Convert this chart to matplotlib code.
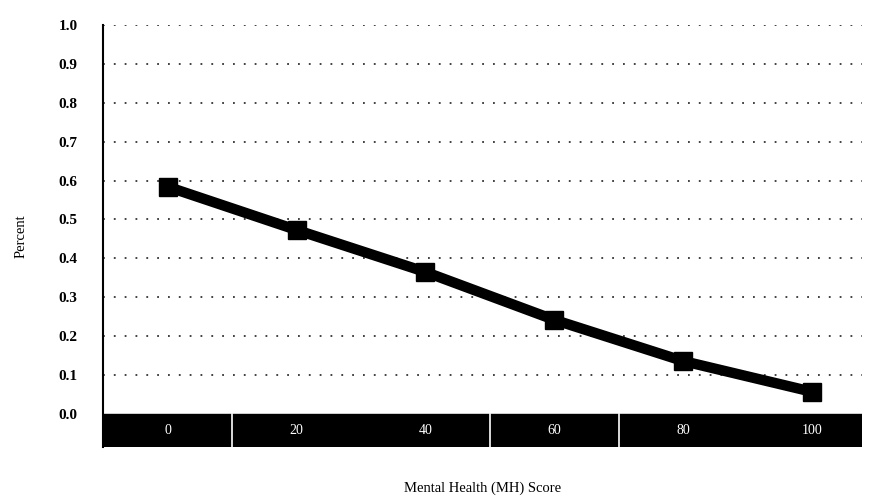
import matplotlib.pyplot as plt

# MH score groups and share of respondents
scores = [0, 20, 40, 60, 80, 100]
percent = [0.584, 0.473, 0.365, 0.242, 0.136, 0.057]
score_labels = ['0', '20', '40', '60', '80', '100']
y_ticks = [0.0, 0.1, 0.2, 0.3, 0.4, 0.5, 0.6, 0.7, 0.8, 0.9, 1.0]
band_dividers = [10, 50, 70]

plt.rcParams['font.family'] = ['Liberation Serif', 'DejaVu Serif']

fig = plt.figure(figsize=(8.7, 5.0), dpi=100)
ax = fig.add_axes([0.118, 0.106, 0.873, 0.844])

ax.set_xlim(-10.1, 107.8)
ax.set_ylim(-0.085, 1.0)

# dotted horizontal grid
for yv in y_ticks[1:]:
    ax.axhline(yv, color='#333333', lw=1.3, ls=(0, (1, 5)), zorder=1)

# black score band along the bottom
ax.axhspan(-0.085, 0.0, color='black', zorder=2)
for xv in band_dividers:
    ax.plot([xv, xv], [-0.085, 0.0], color='white', lw=1.2, zorder=3)
for xv, lab in zip(scores, score_labels):
    ax.text(xv, -0.042, lab, color='white', ha='center', va='center',
            fontsize=10, zorder=4)

ax.plot(scores, percent, color='black', lw=7.5, marker='s', ms=13,
        solid_capstyle='butt', zorder=5)

ax.set_yticks(y_ticks)
ax.set_yticklabels(['%.1f' % v for v in y_ticks], fontsize=11, fontweight='bold')
ax.tick_params(axis='y', length=0, pad=18)
ax.set_xticks([])

for s in ['top', 'right', 'bottom']:
    ax.spines[s].set_visible(False)
ax.spines['left'].set_linewidth(1.5)

ax.set_ylabel('Percent', fontsize=10.5, labelpad=22)
ax.set_xlabel('Mental Health (MH) Score', fontsize=10.5, labelpad=25)

fig.savefig('out.png', dpi=100)
